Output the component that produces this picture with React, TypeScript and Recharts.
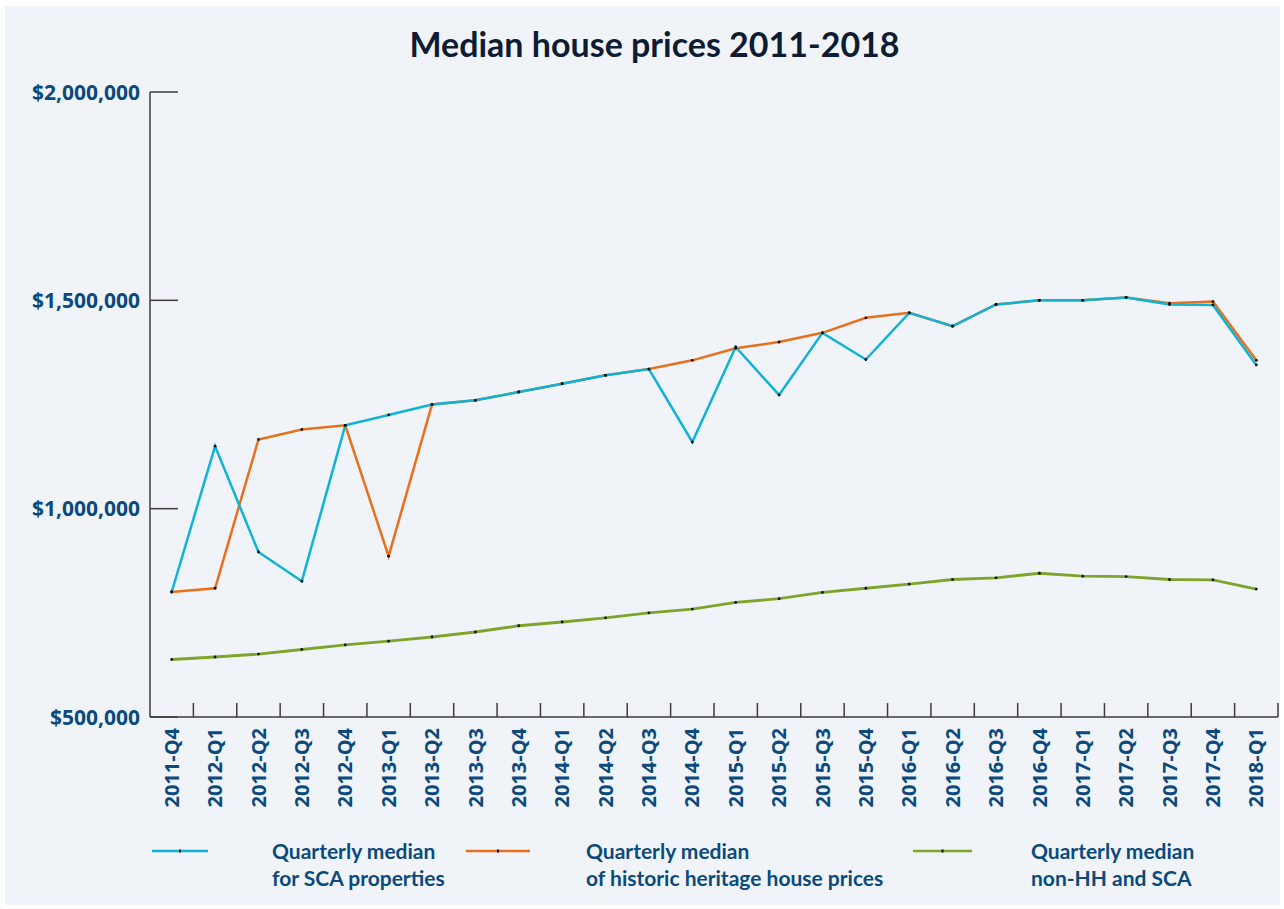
import { LineChart, Line, XAxis, YAxis, Legend } from 'recharts';

const quarters = [
  '2011-Q4', '2012-Q1', '2012-Q2', '2012-Q3', '2012-Q4', '2013-Q1', '2013-Q2',
  '2013-Q3', '2013-Q4', '2014-Q1', '2014-Q2', '2014-Q3', '2014-Q4', '2015-Q1',
  '2015-Q2', '2015-Q3', '2015-Q4', '2016-Q1', '2016-Q2', '2016-Q3', '2016-Q4',
  '2017-Q1', '2017-Q2', '2017-Q3', '2017-Q4', '2018-Q1'
];

const scaMedian = [
  800000, 1150000, 896000, 826000, 1200000, 1225000, 1250000, 1260000, 1280000,
  1300000, 1320000, 1335000, 1160000, 1388000, 1273000, 1422000, 1358000,
  1470000, 1438000, 1490000, 1500000, 1500000, 1507000, 1490000, 1489000, 1345000
];

const heritageMedian = [
  800000, 809000, 1166000, 1190000, 1200000, 886000, 1250000, 1260000, 1280000,
  1300000, 1320000, 1335000, 1356000, 1385000, 1400000, 1422000, 1458000,
  1470000, 1438000, 1490000, 1500000, 1500000, 1507000, 1493000, 1497000, 1356000
];

const otherMedian = [
  638000, 644000, 651000, 662000, 673000, 682000, 692000, 704000, 719000, 728000,
  738000, 750000, 759000, 775000, 784000, 799000, 809000, 819000, 830000, 834000,
  845000, 838000, 837000, 830000, 829000, 807000
];

const yTicks = [500000, 1000000, 1500000, 2000000];

const data = quarters.map((q, i) => ({
  quarter: q,
  sca: scaMedian[i],
  hh: heritageMedian[i],
  other: otherMedian[i]
}));

const LABEL = '#0b4a7c';
const AXIS = '#3d3d3d';
const CYAN = '#0fb3d6';
const ORANGE = '#ea6f1c';
const GREEN = '#7ea52b';

const fmt = (v: number) => '$' + v.toLocaleString('en-US');

const XTick = (props: any) => {
  const { x, y, payload } = props;
  const half = payload.offset || 21.7;
  return (
    <g>
      <line x1={x + half} x2={x + half} y1={y} y2={y - 14} stroke={AXIS} strokeWidth={1.5} />
      <text
        x={x}
        y={y + 11}
        dy='0.36em'
        transform={`rotate(-90 ${x} ${y + 11})`}
        textAnchor='end'
        fill={LABEL}
        fontFamily='Open Sans'
        fontWeight={700}
        fontSize={20}
      >
        {payload.value}
      </text>
    </g>
  );
};

const YTick = (props: any) => {
  const { x, y, payload } = props;
  return (
    <g>
      <line x1={x} x2={x + 28} y1={y} y2={y} stroke={AXIS} strokeWidth={1.5} />
      <text
        x={x - 10}
        y={y}
        dy='0.36em'
        textAnchor='end'
        fill={LABEL}
        fontFamily='Open Sans'
        fontWeight={700}
        fontSize={21}
      >
        {fmt(payload.value)}
      </text>
    </g>
  );
};

const legendSpots: Record<string, { line: number[]; text: number; label: string[] }> = {
  sca: { line: [147, 203], text: 267, label: ['Quarterly median', 'for SCA properties'] },
  hh: { line: [461, 525], text: 581, label: ['Quarterly median', 'of historic heritage house prices'] },
  other: { line: [908, 967], text: 1026, label: ['Quarterly median', 'non-HH and SCA'] }
};

const LegendContent = ({ payload }: any) => (
  <div style={{ position: 'relative', width: 1275, height: 70 }}>
    {(payload || []).map((p: any) => {
      const s = legendSpots[p.dataKey];
      if (!s) return null;
      const mid = (s.line[0] + s.line[1]) / 2;
      return (
        <div key={p.dataKey}>
          <svg
            style={{ position: 'absolute', left: 0, top: 0, overflow: 'visible' }}
            width={1}
            height={1}
          >
            <line x1={s.line[0]} x2={s.line[1]} y1={25} y2={25} stroke={p.color} strokeWidth={2.5} />
            <rect x={mid - 1} y={23.5} width={2} height={3} fill='#111' />
          </svg>
          <div
            style={{
              position: 'absolute',
              left: s.text,
              top: 11,
              color: LABEL,
              fontFamily: 'Lato',
              fontWeight: 700,
              fontSize: 21,
              lineHeight: '27px',
              whiteSpace: 'nowrap'
            }}
          >
            {s.label[0]}
            <br />
            {s.label[1]}
          </div>
        </div>
      );
    })}
  </div>
);

const dot = { r: 1.4, fill: '#111', stroke: 'none' };

const App = () => (
  <div
    style={{
      position: 'absolute',
      left: 5,
      top: 6,
      width: 1275,
      height: 899,
      background: '#f0f4f9'
    }}
  >
    <div
      style={{
        position: 'absolute',
        left: 12,
        top: 17,
        width: 1275,
        textAlign: 'center',
        fontFamily: 'Lato',
        fontWeight: 700,
        fontSize: 34,
        color: '#0e1c33'
      }}
    >
      Median house prices 2011-2018
    </div>
    <LineChart
      width={1275}
      height={899}
      data={data}
      margin={{ top: 86, right: 2, left: 0, bottom: 78 }}
    >
      <XAxis
        dataKey='quarter'
        scale='band'
        interval={0}
        height={110}
        tickSize={0}
        tickMargin={0}
        tickLine={false}
        tick={<XTick />}
        axisLine={{ stroke: AXIS, strokeWidth: 1.5 }}
      />
      <YAxis
        width={145}
        domain={[500000, 2000000]}
        ticks={yTicks}
        tickSize={0}
        tickMargin={0}
        tickLine={false}
        tick={<YTick />}
        axisLine={{ stroke: AXIS, strokeWidth: 1.5 }}
      />
      <Legend
        layout='horizontal'
        verticalAlign='middle'
        align='center'
        wrapperStyle={{ left: 0, top: 820, width: 1275, height: 70 }}
        content={<LegendContent />}
      />
      <Line
        dataKey='hh'
        name='Quarterly median of historic heritage house prices'
        stroke={ORANGE}
        strokeWidth={2.5}
        dot={dot}
        activeDot={false}
        isAnimationActive={false}
      />
      <Line
        dataKey='sca'
        name='Quarterly median for SCA properties'
        stroke={CYAN}
        strokeWidth={2.5}
        dot={dot}
        activeDot={false}
        isAnimationActive={false}
      />
      <Line
        dataKey='other'
        name='Quarterly median non-HH and SCA'
        stroke={GREEN}
        strokeWidth={2.8}
        dot={dot}
        activeDot={false}
        isAnimationActive={false}
      />
    </LineChart>
  </div>
);

export default App;
